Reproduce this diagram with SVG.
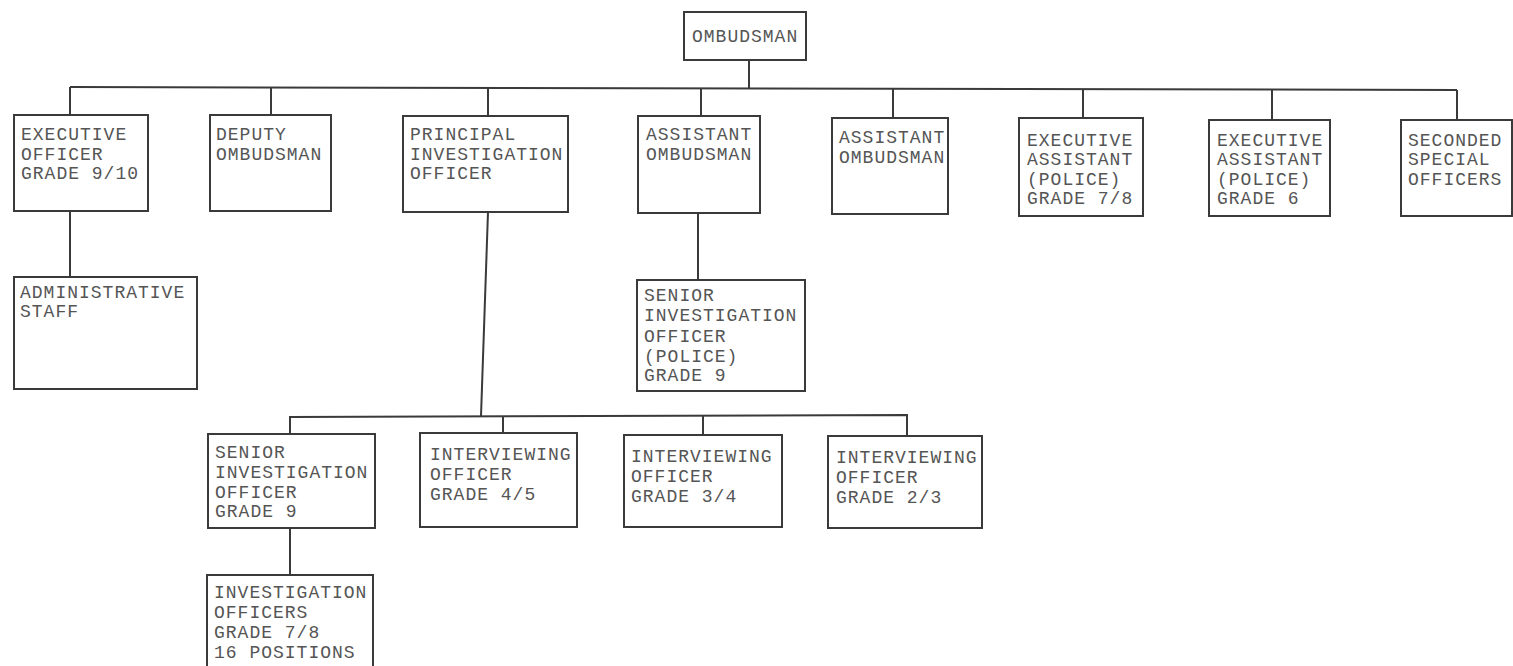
<svg xmlns="http://www.w3.org/2000/svg" width="1513" height="666" viewBox="0 0 1513 666">
<style>
.box{fill:#fff;stroke:#3a3a3a;stroke-width:2}
.lbl{font-family:"Liberation Mono","DejaVu Sans Mono",monospace;font-size:18px;letter-spacing:1px;fill:#555}
.con{fill:none;stroke:#3a3a3a;stroke-width:2}
</style>
<rect width="1513" height="666" fill="#fff"/>
<g id="connectors">
<path class="con" d="M749,60 V88"/>
<path class="con" d="M70,87 L1457,90"/>
<path class="con" d="M70,87 V115 M271,87 V115 M488,88 V116 M701,88 V116 M893,89 V118 M1083,89 V118 M1272,90 V120 M1457,90 V120"/>
<path class="con" d="M70,211 V277"/>
<path class="con" d="M698,213 V280"/>
<path class="con" d="M488,212 L481,416"/>
<path class="con" d="M290,434 V417 L907,415 V436"/>
<path class="con" d="M503,416 V433 M703,415 V435"/>
<path class="con" d="M290,528 V575"/>
</g>
<g id="ombudsman"><rect class="box" x="684" y="12" width="122" height="48"/><text class="lbl" x="692" y="42">OMBUDSMAN</text></g>
<g id="executive-officer"><rect class="box" x="14" y="115" width="134" height="96"/><text class="lbl"><tspan x="21" y="140">EXECUTIVE</tspan><tspan x="21" y="160">OFFICER</tspan><tspan x="21" y="179">GRADE 9/10</tspan></text></g>
<g id="deputy-ombudsman"><rect class="box" x="210" y="115" width="121" height="96"/><text class="lbl"><tspan x="216" y="140">DEPUTY</tspan><tspan x="216" y="160">OMBUDSMAN</tspan></text></g>
<g id="principal-investigation-officer"><rect class="box" x="403" y="116" width="165" height="96"/><text class="lbl"><tspan x="410" y="140">PRINCIPAL</tspan><tspan x="410" y="160">INVESTIGATION</tspan><tspan x="410" y="179">OFFICER</tspan></text></g>
<g id="assistant-ombudsman-1"><rect class="box" x="638" y="116" width="122" height="97"/><text class="lbl"><tspan x="646" y="140">ASSISTANT</tspan><tspan x="646" y="160">OMBUDSMAN</tspan></text></g>
<g id="assistant-ombudsman-2"><rect class="box" x="832" y="118" width="116" height="96"/><text class="lbl"><tspan x="839" y="143">ASSISTANT</tspan><tspan x="839" y="163">OMBUDSMAN</tspan></text></g>
<g id="executive-assistant-7-8"><rect class="box" x="1019" y="118" width="124" height="98"/><text class="lbl"><tspan x="1027" y="146">EXECUTIVE</tspan><tspan x="1027" y="165">ASSISTANT</tspan><tspan x="1027" y="185">(POLICE)</tspan><tspan x="1027" y="204">GRADE 7/8</tspan></text></g>
<g id="executive-assistant-6"><rect class="box" x="1209" y="120" width="121" height="96"/><text class="lbl"><tspan x="1217" y="146">EXECUTIVE</tspan><tspan x="1217" y="165">ASSISTANT</tspan><tspan x="1217" y="185">(POLICE)</tspan><tspan x="1217" y="204">GRADE 6</tspan></text></g>
<g id="seconded-special-officers"><rect class="box" x="1401" y="120" width="111" height="96"/><text class="lbl"><tspan x="1408" y="146">SECONDED</tspan><tspan x="1408" y="165">SPECIAL</tspan><tspan x="1408" y="185">OFFICERS</tspan></text></g>
<g id="administrative-staff"><rect class="box" x="14" y="277" width="183" height="112"/><text class="lbl"><tspan x="20" y="298">ADMINISTRATIVE</tspan><tspan x="20" y="317">STAFF</tspan></text></g>
<g id="senior-investigation-officer-police"><rect class="box" x="637" y="280" width="168" height="111"/><text class="lbl"><tspan x="644" y="301">SENIOR</tspan><tspan x="644" y="321">INVESTIGATION</tspan><tspan x="644" y="342">OFFICER</tspan><tspan x="644" y="362">(POLICE)</tspan><tspan x="644" y="381">GRADE 9</tspan></text></g>
<g id="senior-investigation-officer"><rect class="box" x="208" y="434" width="167" height="94"/><text class="lbl"><tspan x="215" y="458">SENIOR</tspan><tspan x="215" y="478">INVESTIGATION</tspan><tspan x="215" y="498">OFFICER</tspan><tspan x="215" y="517">GRADE 9</tspan></text></g>
<g id="interviewing-officer-4-5"><rect class="box" x="420" y="433" width="157" height="94"/><text class="lbl"><tspan x="430" y="460">INTERVIEWING</tspan><tspan x="430" y="480">OFFICER</tspan><tspan x="430" y="500">GRADE 4/5</tspan></text></g>
<g id="interviewing-officer-3-4"><rect class="box" x="624" y="435" width="158" height="92"/><text class="lbl"><tspan x="631" y="462">INTERVIEWING</tspan><tspan x="631" y="482">OFFICER</tspan><tspan x="631" y="502">GRADE 3/4</tspan></text></g>
<g id="interviewing-officer-2-3"><rect class="box" x="828" y="436" width="154" height="92"/><text class="lbl"><tspan x="836" y="463">INTERVIEWING</tspan><tspan x="836" y="483">OFFICER</tspan><tspan x="836" y="503">GRADE 2/3</tspan></text></g>
<g id="investigation-officers"><rect class="box" x="207" y="575" width="166" height="110"/><text class="lbl"><tspan x="214" y="598">INVESTIGATION</tspan><tspan x="214" y="618">OFFICERS</tspan><tspan x="214" y="638">GRADE 7/8</tspan><tspan x="214" y="658">16 POSITIONS</tspan></text></g>
</svg>
